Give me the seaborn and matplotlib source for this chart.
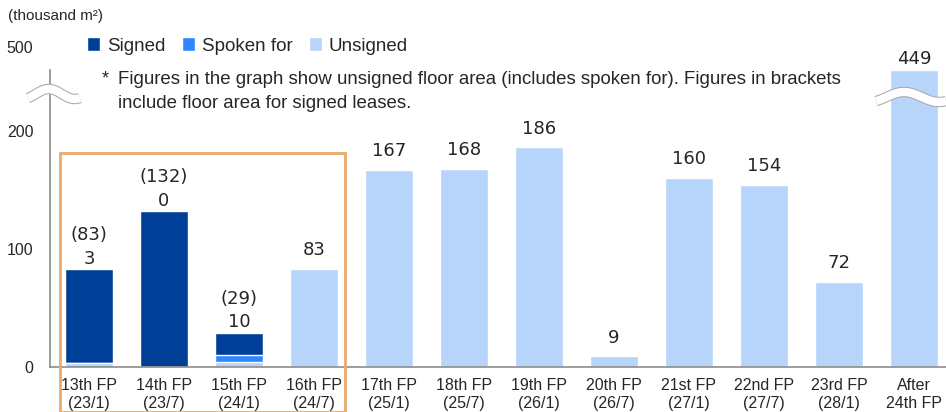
import numpy as np
import pandas as pd
import seaborn as sns
import matplotlib.pyplot as plt
from matplotlib.patches import Patch, Rectangle
from matplotlib.lines import Line2D

# data (thousand m2)
periods = ["13th FP\n(23/1)", "14th FP\n(23/7)", "15th FP\n(24/1)", "16th FP\n(24/7)",
           "17th FP\n(25/1)", "18th FP\n(25/7)", "19th FP\n(26/1)", "20th FP\n(26/7)",
           "21st FP\n(27/1)", "22nd FP\n(27/7)", "23rd FP\n(28/1)", "After\n24th FP"]
signed = [80, 132, 19, 0, 0, 0, 0, 0, 0, 0, 0, 0]
spoken_for = [0, 0, 6, 0, 0, 0, 0, 0, 0, 0, 0, 0]
unsigned = [3, 0, 4, 83, 167, 168, 186, 9, 160, 154, 72, 449]
y_ticks = [0, 100, 200, 500]

DARK = "#003F98"
MID = "#2E87FF"
LIGHT = "#B7D5FA"
ORANGE = "#EBAA6A"
GREY = "#8C8C8C"
W, H = 946, 412

df = pd.DataFrame({"period": periods, "signed": signed,
                   "spoken": spoken_for, "unsigned": unsigned})
df["open"] = df["unsigned"] + df["spoken"]
df["total"] = df["open"] + df["signed"]

# broken axis: compress everything above ~215
BREAK = 215
K1 = (251.7 - BREAK) / 234
K2 = (271 - 251.7) / 51


def fwd(y):
    y = np.asarray(y, dtype=float)
    return np.where(y <= BREAK, y,
                    np.where(y <= 449, BREAK + (y - BREAK) * K1, 251.7 + (y - 449) * K2))


def inv(f):
    f = np.asarray(f, dtype=float)
    return np.where(f <= BREAK, f,
                    np.where(f <= 251.7, BREAK + (f - BREAK) / K1, 449 + (f - 251.7) / K2))


sns.set_style("white")
plt.rcParams["font.family"] = ["Liberation Sans", "DejaVu Sans"]

fig = plt.figure(figsize=(W / 100, H / 100), dpi=100)
ax = fig.add_axes([50 / W, 1 - 367 / H, 896 / W, 320 / H])
ax.set_yscale("function", functions=(fwd, inv))

sns.barplot(data=df, x="period", y="total", order=periods, color=DARK,
            saturation=1, width=0.64, ax=ax)
sns.barplot(data=df, x="period", y="open", order=periods, color=MID,
            saturation=1, width=0.64, ax=ax)
sns.barplot(data=df, x="period", y="unsigned", order=periods, color=LIGHT,
            saturation=1, width=0.64, ax=ax)

ax.set_xlim(-0.52, 11.427)
ax.set_ylim(0, 500)
ax.set_yticks(y_ticks)
ax.set_yticklabels([str(v) for v in y_ticks])
ax.set_xlabel("")
ax.set_ylabel("")
ax.tick_params(axis="x", length=0, pad=8, labelsize=11.5)
ax.tick_params(axis="y", length=5, width=1, color=GREY, pad=7, labelsize=11.5)
ax.yaxis.get_major_ticks()[3].tick1line.set_visible(False)
for lbl in ax.get_xticklabels():
    lbl.set_linespacing(1.25)

for s in ["top", "right"]:
    ax.spines[s].set_visible(False)
for s in ["left", "bottom"]:
    ax.spines[s].set_color(GREY)
    ax.spines[s].set_linewidth(1.2)
ax.spines["left"].set_bounds(0, 449)

# value labels
lab_font = dict(family="DejaVu Sans", fontsize=13, ha="center", va="bottom")
for i, row in df.iterrows():
    if row["signed"] > 0:
        ax.annotate(f"{row['open']}", (i, row["total"]), xytext=(0, 1),
                    textcoords="offset points", **lab_font)
        ax.annotate(f"({row['total']})", (i, row["total"]), xytext=(0, 18),
                    textcoords="offset points", **lab_font)
    else:
        off = 1 if row["total"] > BREAK * 2 else 7
        ax.annotate(f"{row['open']}", (i, row["total"]), xytext=(0, off),
                    textcoords="offset points", **lab_font)


def px(x, y):
    return x / W, 1 - y / H


def wave(x0, x1, yc, amp=5):
    t = np.linspace(0, 1, 60)
    xs = x0 + (x1 - x0) * t
    ys = yc - amp * np.sin(2 * np.pi * (t - 0.15))
    fx, fy = px(xs, ys)
    fig.add_artist(Line2D(fx, fy, color="#A8A8A8", lw=7.5, solid_capstyle="butt",
                          transform=fig.transFigure, zorder=10))
    fig.add_artist(Line2D(fx, fy, color="white", lw=6, solid_capstyle="butt",
                          transform=fig.transFigure, zorder=11))


wave(28, 80, 94)
wave(876, 946, 97)

# highlight box around 13th-16th FP
bx, by = px(60, 412)
bx2, by2 = px(345, 153)
fig.add_artist(Rectangle((bx, by), bx2 - bx, by2 - by, fill=False, edgecolor=ORANGE,
                         lw=2, transform=fig.transFigure, zorder=12))

fig.text(*px(8, 16), "(thousand m²)", fontsize=11, va="center", ha="left")

handles = [Patch(facecolor=DARK), Patch(facecolor=MID), Patch(facecolor=LIGHT)]
fig.legend(handles, ["Signed", "Spoken for", "Unsigned"], loc="center left",
           bbox_to_anchor=px(87, 46), ncol=3, frameon=False, fontsize=13.5,
           handlelength=0.7, handleheight=0.7, handletextpad=0.35,
           columnspacing=0.9, borderaxespad=0, borderpad=0)

fig.text(*px(102, 79), "*", fontsize=13, va="center", ha="left")
fig.text(*px(118, 79), "Figures in the graph show unsigned floor area (includes spoken for). "
         "Figures in brackets", fontsize=13.4, va="center", ha="left")
fig.text(*px(118, 104), "include floor area for signed leases.", fontsize=13.4,
         va="center", ha="left")

fig.savefig("out.png", dpi=100)
